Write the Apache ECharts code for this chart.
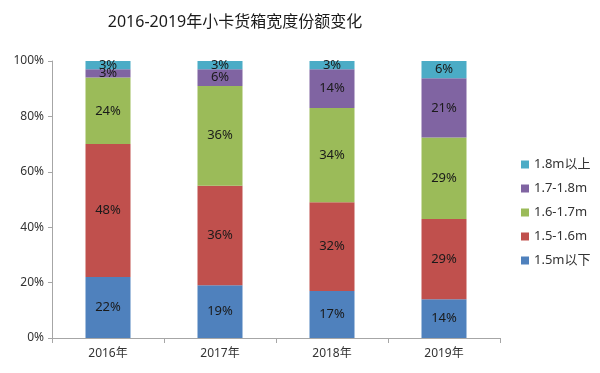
<!DOCTYPE html>
<html><head><meta charset="utf-8">
<script src="https://cdn.jsdelivr.net/npm/echarts@6/dist/echarts.min.js"></script>
<style>html,body{margin:0;padding:0;background:#fff}#c{width:600px;height:373px}</style>
</head><body><div id="c"></div>
<script>
const categories = ['2016年', '2017年', '2018年', '2019年'];
const seriesNames = ['1.5m以下', '1.5-1.6m', '1.6-1.7m', '1.7-1.8m', '1.8m以上'];
const s15below = [22, 19, 17, 14];
const s1516 = [48, 36, 32, 29];
const s1617 = [24, 36, 34, 29.4];
const s1718 = [3, 6, 14, 21.4];
const s18above = [3, 3, 3, 6.2];
const yTicks = [0, 20, 40, 60, 80, 100];

const colors = ['#4f81bd', '#c0504d', '#9bbb59', '#8064a2', '#4bacc6'];
const values = [s15below, s1516, s1617, s1718, s18above];
const font = '"Noto Sans", "Noto Sans CJK SC", sans-serif';

const chart = echarts.init(document.getElementById('c'), null, {renderer: 'canvas'});
chart.setOption({
  animation: false,
  title: {
    text: '2016-2019年小卡货箱宽度份额变化',
    left: 230, top: 9, textAlign: 'center',
    textStyle: {fontFamily: font, fontSize: 16, fontWeight: 'normal', color: '#1a1a1a'}
  },
  legend: {
    data: seriesNames.slice().reverse(),
    orient: 'vertical',
    left: 516, top: 153,
    itemWidth: 8, itemHeight: 8, itemGap: 11,
    icon: 'rect',
    textStyle: {fontFamily: font, fontSize: 13, color: '#333'}
  },
  grid: {left: 52, right: 100, top: 61, bottom: 35},
  xAxis: {
    type: 'category', data: categories,
    axisLine: {lineStyle: {color: '#a6a6a6'}},
    axisTick: {show: true, alignWithLabel: false, length: 5, lineStyle: {color: '#a6a6a6'}},
    axisLabel: {fontFamily: font, fontSize: 12, color: '#333', margin: 10}
  },
  yAxis: {
    type: 'value', min: 0, max: 100, interval: 20,
    axisLine: {show: true, lineStyle: {color: '#a6a6a6'}},
    axisTick: {show: true, length: 4, lineStyle: {color: '#a6a6a6'}},
    splitLine: {show: false},
    axisLabel: {fontFamily: font, fontSize: 12, color: '#333', margin: 8,
      formatter: v => yTicks.includes(v) ? v + '%' : ''}
  },
  series: values.map((d, i) => ({
    name: seriesNames[i], type: 'bar', stack: 'total', data: d,
    barWidth: 45,
    itemStyle: {color: colors[i]},
    label: {show: true, position: 'inside', fontFamily: font, fontSize: 13, color: '#1a1a1a',
      formatter: p => Math.round(p.value) + '%'}
  }))
});
</script></body></html>
